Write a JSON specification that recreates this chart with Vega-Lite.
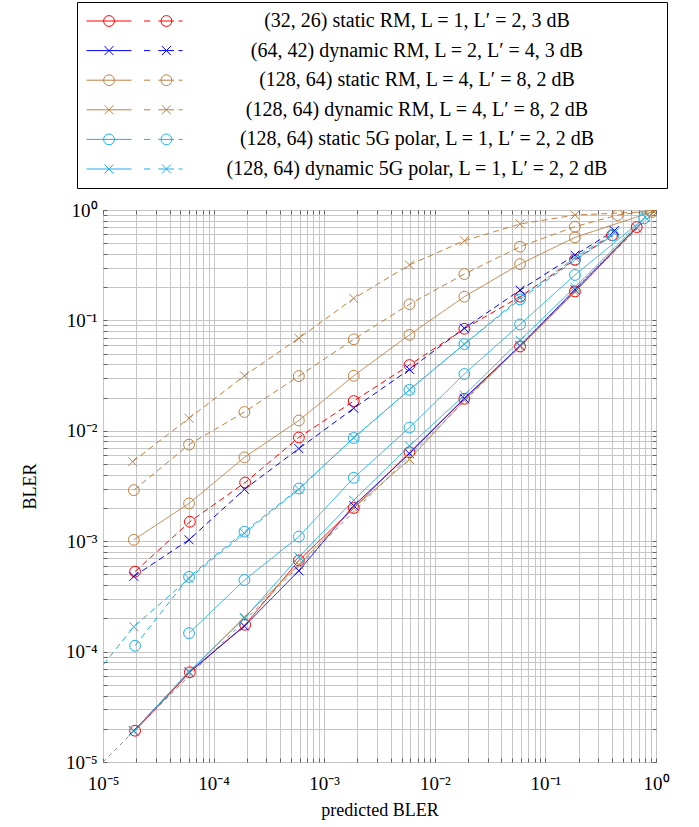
{
  "$schema": "https://vega.github.io/schema/vega-lite/v6.json",
  "width": 553,
  "height": 552,
  "autosize": {"type": "none"},
  "padding": {"left": 103, "top": 210, "right": 43, "bottom": 65},
  "background": "white",
  "config": {
    "view": {"stroke": "black", "strokeWidth": 1},
    "font": "Liberation Serif"
  },
  "data": {
    "values": [
      {"s": "(32, 26) static RM, L = 1, L′ = 2, 3 dB", "t": "L", "m": "o", "x": 0.0000195, "y": 0.0000192},
      {"s": "(32, 26) static RM, L = 1, L′ = 2, 3 dB", "t": "L", "m": "o", "x": 0.000061, "y": 0.000065},
      {"s": "(32, 26) static RM, L = 1, L′ = 2, 3 dB", "t": "L", "m": "o", "x": 0.000193, "y": 0.000175},
      {"s": "(32, 26) static RM, L = 1, L′ = 2, 3 dB", "t": "L", "m": "o", "x": 0.00059, "y": 0.00067},
      {"s": "(32, 26) static RM, L = 1, L′ = 2, 3 dB", "t": "L", "m": "o", "x": 0.00185, "y": 0.002},
      {"s": "(32, 26) static RM, L = 1, L′ = 2, 3 dB", "t": "L", "m": "o", "x": 0.0059, "y": 0.0064},
      {"s": "(32, 26) static RM, L = 1, L′ = 2, 3 dB", "t": "L", "m": "o", "x": 0.0185, "y": 0.0195},
      {"s": "(32, 26) static RM, L = 1, L′ = 2, 3 dB", "t": "L", "m": "o", "x": 0.059, "y": 0.058},
      {"s": "(32, 26) static RM, L = 1, L′ = 2, 3 dB", "t": "L", "m": "o", "x": 0.185, "y": 0.183},
      {"s": "(32, 26) static RM, L = 1, L′ = 2, 3 dB", "t": "L", "m": "o", "x": 0.67, "y": 0.7},
      {"s": "(32, 26) static RM, L = 1, L′ = 2, 3 dB", "t": "L′", "m": "o", "x": 0.0000195, "y": 0.00053},
      {"s": "(32, 26) static RM, L = 1, L′ = 2, 3 dB", "t": "L′", "m": "o", "x": 0.000061, "y": 0.0015},
      {"s": "(32, 26) static RM, L = 1, L′ = 2, 3 dB", "t": "L′", "m": "o", "x": 0.000193, "y": 0.0034},
      {"s": "(32, 26) static RM, L = 1, L′ = 2, 3 dB", "t": "L′", "m": "o", "x": 0.00059, "y": 0.0087},
      {"s": "(32, 26) static RM, L = 1, L′ = 2, 3 dB", "t": "L′", "m": "o", "x": 0.00185, "y": 0.0186},
      {"s": "(32, 26) static RM, L = 1, L′ = 2, 3 dB", "t": "L′", "m": "o", "x": 0.0059, "y": 0.0394},
      {"s": "(32, 26) static RM, L = 1, L′ = 2, 3 dB", "t": "L′", "m": "o", "x": 0.0185, "y": 0.084},
      {"s": "(32, 26) static RM, L = 1, L′ = 2, 3 dB", "t": "L′", "m": "o", "x": 0.059, "y": 0.164},
      {"s": "(32, 26) static RM, L = 1, L′ = 2, 3 dB", "t": "L′", "m": "o", "x": 0.185, "y": 0.355},
      {"s": "(32, 26) static RM, L = 1, L′ = 2, 3 dB", "t": "L′", "m": "o", "x": 0.4, "y": 0.59},

      {"s": "(64, 42) dynamic RM, L = 2, L′ = 4, 3 dB", "t": "L", "m": "x", "x": 0.000019, "y": 0.0000192},
      {"s": "(64, 42) dynamic RM, L = 2, L′ = 4, 3 dB", "t": "L", "m": "x", "x": 0.00006, "y": 0.000065},
      {"s": "(64, 42) dynamic RM, L = 2, L′ = 4, 3 dB", "t": "L", "m": "x", "x": 0.00019, "y": 0.00017},
      {"s": "(64, 42) dynamic RM, L = 2, L′ = 4, 3 dB", "t": "L", "m": "x", "x": 0.00059, "y": 0.00054},
      {"s": "(64, 42) dynamic RM, L = 2, L′ = 4, 3 dB", "t": "L", "m": "x", "x": 0.00185, "y": 0.0021},
      {"s": "(64, 42) dynamic RM, L = 2, L′ = 4, 3 dB", "t": "L", "m": "x", "x": 0.0059, "y": 0.0062},
      {"s": "(64, 42) dynamic RM, L = 2, L′ = 4, 3 dB", "t": "L", "m": "x", "x": 0.0185, "y": 0.0197},
      {"s": "(64, 42) dynamic RM, L = 2, L′ = 4, 3 dB", "t": "L", "m": "x", "x": 0.059, "y": 0.059},
      {"s": "(64, 42) dynamic RM, L = 2, L′ = 4, 3 dB", "t": "L", "m": "x", "x": 0.185, "y": 0.19},
      {"s": "(64, 42) dynamic RM, L = 2, L′ = 4, 3 dB", "t": "L", "m": "x", "x": 0.67, "y": 0.69},
      {"s": "(64, 42) dynamic RM, L = 2, L′ = 4, 3 dB", "t": "L′", "m": "x", "x": 0.000019, "y": 0.00048},
      {"s": "(64, 42) dynamic RM, L = 2, L′ = 4, 3 dB", "t": "L′", "m": "x", "x": 0.00006, "y": 0.00103},
      {"s": "(64, 42) dynamic RM, L = 2, L′ = 4, 3 dB", "t": "L′", "m": "x", "x": 0.00019, "y": 0.00295},
      {"s": "(64, 42) dynamic RM, L = 2, L′ = 4, 3 dB", "t": "L′", "m": "x", "x": 0.00059, "y": 0.0069},
      {"s": "(64, 42) dynamic RM, L = 2, L′ = 4, 3 dB", "t": "L′", "m": "x", "x": 0.00185, "y": 0.016},
      {"s": "(64, 42) dynamic RM, L = 2, L′ = 4, 3 dB", "t": "L′", "m": "x", "x": 0.0059, "y": 0.036},
      {"s": "(64, 42) dynamic RM, L = 2, L′ = 4, 3 dB", "t": "L′", "m": "x", "x": 0.0185, "y": 0.085},
      {"s": "(64, 42) dynamic RM, L = 2, L′ = 4, 3 dB", "t": "L′", "m": "x", "x": 0.059, "y": 0.188},
      {"s": "(64, 42) dynamic RM, L = 2, L′ = 4, 3 dB", "t": "L′", "m": "x", "x": 0.185, "y": 0.39},
      {"s": "(64, 42) dynamic RM, L = 2, L′ = 4, 3 dB", "t": "L′", "m": "x", "x": 0.42, "y": 0.65},

      {"s": "(128, 64) static RM, L = 4, L′ = 8, 2 dB", "t": "L", "m": "o", "x": 0.000019, "y": 0.00103},
      {"s": "(128, 64) static RM, L = 4, L′ = 8, 2 dB", "t": "L", "m": "o", "x": 0.00006, "y": 0.0022},
      {"s": "(128, 64) static RM, L = 4, L′ = 8, 2 dB", "t": "L", "m": "o", "x": 0.00019, "y": 0.00575},
      {"s": "(128, 64) static RM, L = 4, L′ = 8, 2 dB", "t": "L", "m": "o", "x": 0.00059, "y": 0.0124},
      {"s": "(128, 64) static RM, L = 4, L′ = 8, 2 dB", "t": "L", "m": "o", "x": 0.00185, "y": 0.0315},
      {"s": "(128, 64) static RM, L = 4, L′ = 8, 2 dB", "t": "L", "m": "o", "x": 0.0059, "y": 0.074},
      {"s": "(128, 64) static RM, L = 4, L′ = 8, 2 dB", "t": "L", "m": "o", "x": 0.0185, "y": 0.164},
      {"s": "(128, 64) static RM, L = 4, L′ = 8, 2 dB", "t": "L", "m": "o", "x": 0.059, "y": 0.324},
      {"s": "(128, 64) static RM, L = 4, L′ = 8, 2 dB", "t": "L", "m": "o", "x": 0.185, "y": 0.565},
      {"s": "(128, 64) static RM, L = 4, L′ = 8, 2 dB", "t": "L", "m": "o", "x": 0.92, "y": 0.96},
      {"s": "(128, 64) static RM, L = 4, L′ = 8, 2 dB", "t": "L′", "m": "o", "x": 0.000019, "y": 0.0029},
      {"s": "(128, 64) static RM, L = 4, L′ = 8, 2 dB", "t": "L′", "m": "o", "x": 0.00006, "y": 0.0075},
      {"s": "(128, 64) static RM, L = 4, L′ = 8, 2 dB", "t": "L′", "m": "o", "x": 0.00019, "y": 0.0148},
      {"s": "(128, 64) static RM, L = 4, L′ = 8, 2 dB", "t": "L′", "m": "o", "x": 0.00059, "y": 0.0313},
      {"s": "(128, 64) static RM, L = 4, L′ = 8, 2 dB", "t": "L′", "m": "o", "x": 0.00185, "y": 0.0674},
      {"s": "(128, 64) static RM, L = 4, L′ = 8, 2 dB", "t": "L′", "m": "o", "x": 0.0059, "y": 0.14},
      {"s": "(128, 64) static RM, L = 4, L′ = 8, 2 dB", "t": "L′", "m": "o", "x": 0.0185, "y": 0.263},
      {"s": "(128, 64) static RM, L = 4, L′ = 8, 2 dB", "t": "L′", "m": "o", "x": 0.059, "y": 0.465},
      {"s": "(128, 64) static RM, L = 4, L′ = 8, 2 dB", "t": "L′", "m": "o", "x": 0.185, "y": 0.706},
      {"s": "(128, 64) static RM, L = 4, L′ = 8, 2 dB", "t": "L′", "m": "o", "x": 0.45, "y": 0.9},
      {"s": "(128, 64) static RM, L = 4, L′ = 8, 2 dB", "t": "L′", "m": "o", "x": 0.9, "y": 0.99},

      {"s": "(128, 64) dynamic RM, L = 4, L′ = 8, 2 dB", "t": "L", "m": "x", "x": 0.000019, "y": 0.000019},
      {"s": "(128, 64) dynamic RM, L = 4, L′ = 8, 2 dB", "t": "L", "m": "x", "x": 0.00006, "y": 0.000065},
      {"s": "(128, 64) dynamic RM, L = 4, L′ = 8, 2 dB", "t": "L", "m": "x", "x": 0.00019, "y": 0.000205},
      {"s": "(128, 64) dynamic RM, L = 4, L′ = 8, 2 dB", "t": "L", "m": "x", "x": 0.00059, "y": 0.00061},
      {"s": "(128, 64) dynamic RM, L = 4, L′ = 8, 2 dB", "t": "L", "m": "x", "x": 0.00185, "y": 0.002},
      {"s": "(128, 64) dynamic RM, L = 4, L′ = 8, 2 dB", "t": "L", "m": "x", "x": 0.0059, "y": 0.0055},
      {"s": "(128, 64) dynamic RM, L = 4, L′ = 8, 2 dB", "t": "L", "m": "x", "x": 0.0185, "y": 0.019},
      {"s": "(128, 64) dynamic RM, L = 4, L′ = 8, 2 dB", "t": "L", "m": "x", "x": 0.059, "y": 0.058},
      {"s": "(128, 64) dynamic RM, L = 4, L′ = 8, 2 dB", "t": "L", "m": "x", "x": 0.185, "y": 0.18},
      {"s": "(128, 64) dynamic RM, L = 4, L′ = 8, 2 dB", "t": "L", "m": "x", "x": 0.67, "y": 0.69},
      {"s": "(128, 64) dynamic RM, L = 4, L′ = 8, 2 dB", "t": "L′", "m": "x", "x": 0.0000185, "y": 0.00525},
      {"s": "(128, 64) dynamic RM, L = 4, L′ = 8, 2 dB", "t": "L′", "m": "x", "x": 0.00006, "y": 0.013},
      {"s": "(128, 64) dynamic RM, L = 4, L′ = 8, 2 dB", "t": "L′", "m": "x", "x": 0.00019, "y": 0.0315},
      {"s": "(128, 64) dynamic RM, L = 4, L′ = 8, 2 dB", "t": "L′", "m": "x", "x": 0.00059, "y": 0.069},
      {"s": "(128, 64) dynamic RM, L = 4, L′ = 8, 2 dB", "t": "L′", "m": "x", "x": 0.00185, "y": 0.158},
      {"s": "(128, 64) dynamic RM, L = 4, L′ = 8, 2 dB", "t": "L′", "m": "x", "x": 0.0059, "y": 0.318},
      {"s": "(128, 64) dynamic RM, L = 4, L′ = 8, 2 dB", "t": "L′", "m": "x", "x": 0.0185, "y": 0.527},
      {"s": "(128, 64) dynamic RM, L = 4, L′ = 8, 2 dB", "t": "L′", "m": "x", "x": 0.059, "y": 0.747},
      {"s": "(128, 64) dynamic RM, L = 4, L′ = 8, 2 dB", "t": "L′", "m": "x", "x": 0.185, "y": 0.9},
      {"s": "(128, 64) dynamic RM, L = 4, L′ = 8, 2 dB", "t": "L′", "m": "x", "x": 0.95, "y": 0.97},

      {"s": "(128, 64) static 5G polar, L = 1, L′ = 2, 2 dB", "t": "L", "m": "o", "x": 0.00006, "y": 0.000147},
      {"s": "(128, 64) static 5G polar, L = 1, L′ = 2, 2 dB", "t": "L", "m": "o", "x": 0.00019, "y": 0.000445},
      {"s": "(128, 64) static 5G polar, L = 1, L′ = 2, 2 dB", "t": "L", "m": "o", "x": 0.00059, "y": 0.0011},
      {"s": "(128, 64) static 5G polar, L = 1, L′ = 2, 2 dB", "t": "L", "m": "o", "x": 0.00185, "y": 0.00375},
      {"s": "(128, 64) static 5G polar, L = 1, L′ = 2, 2 dB", "t": "L", "m": "o", "x": 0.0059, "y": 0.0107},
      {"s": "(128, 64) static 5G polar, L = 1, L′ = 2, 2 dB", "t": "L", "m": "o", "x": 0.0185, "y": 0.0327},
      {"s": "(128, 64) static 5G polar, L = 1, L′ = 2, 2 dB", "t": "L", "m": "o", "x": 0.059, "y": 0.092},
      {"s": "(128, 64) static 5G polar, L = 1, L′ = 2, 2 dB", "t": "L", "m": "o", "x": 0.185, "y": 0.258},
      {"s": "(128, 64) static 5G polar, L = 1, L′ = 2, 2 dB", "t": "L", "m": "o", "x": 0.78, "y": 0.84},
      {"s": "(128, 64) static 5G polar, L = 1, L′ = 2, 2 dB", "t": "L′", "m": "o", "x": 0.0000195, "y": 0.000113},
      {"s": "(128, 64) static 5G polar, L = 1, L′ = 2, 2 dB", "t": "L′", "m": "o", "x": 0.00006, "y": 0.000475},
      {"s": "(128, 64) static 5G polar, L = 1, L′ = 2, 2 dB", "t": "L′", "m": "o", "x": 0.00019, "y": 0.00122},
      {"s": "(128, 64) static 5G polar, L = 1, L′ = 2, 2 dB", "t": "L′", "m": "o", "x": 0.00059, "y": 0.003},
      {"s": "(128, 64) static 5G polar, L = 1, L′ = 2, 2 dB", "t": "L′", "m": "o", "x": 0.00185, "y": 0.0086},
      {"s": "(128, 64) static 5G polar, L = 1, L′ = 2, 2 dB", "t": "L′", "m": "o", "x": 0.0059, "y": 0.0235},
      {"s": "(128, 64) static 5G polar, L = 1, L′ = 2, 2 dB", "t": "L′", "m": "o", "x": 0.0185, "y": 0.061},
      {"s": "(128, 64) static 5G polar, L = 1, L′ = 2, 2 dB", "t": "L′", "m": "o", "x": 0.059, "y": 0.155},
      {"s": "(128, 64) static 5G polar, L = 1, L′ = 2, 2 dB", "t": "L′", "m": "o", "x": 0.185, "y": 0.35},
      {"s": "(128, 64) static 5G polar, L = 1, L′ = 2, 2 dB", "t": "L′", "m": "o", "x": 0.41, "y": 0.59},

      {"s": "(128, 64) dynamic 5G polar, L = 1, L′ = 2, 2 dB", "t": "L", "m": "x", "x": 0.000019, "y": 0.000019},
      {"s": "(128, 64) dynamic 5G polar, L = 1, L′ = 2, 2 dB", "t": "L", "m": "x", "x": 0.00006, "y": 0.000066},
      {"s": "(128, 64) dynamic 5G polar, L = 1, L′ = 2, 2 dB", "t": "L", "m": "x", "x": 0.00019, "y": 0.0002},
      {"s": "(128, 64) dynamic 5G polar, L = 1, L′ = 2, 2 dB", "t": "L", "m": "x", "x": 0.00059, "y": 0.00072},
      {"s": "(128, 64) dynamic 5G polar, L = 1, L′ = 2, 2 dB", "t": "L", "m": "x", "x": 0.00185, "y": 0.00235},
      {"s": "(128, 64) dynamic 5G polar, L = 1, L′ = 2, 2 dB", "t": "L", "m": "x", "x": 0.0059, "y": 0.0073},
      {"s": "(128, 64) dynamic 5G polar, L = 1, L′ = 2, 2 dB", "t": "L", "m": "x", "x": 0.0185, "y": 0.021},
      {"s": "(128, 64) dynamic 5G polar, L = 1, L′ = 2, 2 dB", "t": "L", "m": "x", "x": 0.059, "y": 0.066},
      {"s": "(128, 64) dynamic 5G polar, L = 1, L′ = 2, 2 dB", "t": "L", "m": "x", "x": 0.185, "y": 0.2},
      {"s": "(128, 64) dynamic 5G polar, L = 1, L′ = 2, 2 dB", "t": "L", "m": "x", "x": 0.8, "y": 0.86},
      {"s": "(128, 64) dynamic 5G polar, L = 1, L′ = 2, 2 dB", "t": "L′", "m": "x", "x": 0.000006, "y": 0.00004},
      {"s": "(128, 64) dynamic 5G polar, L = 1, L′ = 2, 2 dB", "t": "L′", "m": "x", "x": 0.000019, "y": 0.000168},
      {"s": "(128, 64) dynamic 5G polar, L = 1, L′ = 2, 2 dB", "t": "L′", "m": "x", "x": 0.00006, "y": 0.00046},
      {"s": "(128, 64) dynamic 5G polar, L = 1, L′ = 2, 2 dB", "t": "L′", "m": "x", "x": 0.00019, "y": 0.00118},
      {"s": "(128, 64) dynamic 5G polar, L = 1, L′ = 2, 2 dB", "t": "L′", "m": "x", "x": 0.00059, "y": 0.00295},
      {"s": "(128, 64) dynamic 5G polar, L = 1, L′ = 2, 2 dB", "t": "L′", "m": "x", "x": 0.00185, "y": 0.0087},
      {"s": "(128, 64) dynamic 5G polar, L = 1, L′ = 2, 2 dB", "t": "L′", "m": "x", "x": 0.0059, "y": 0.0235},
      {"s": "(128, 64) dynamic 5G polar, L = 1, L′ = 2, 2 dB", "t": "L′", "m": "x", "x": 0.0185, "y": 0.061},
      {"s": "(128, 64) dynamic 5G polar, L = 1, L′ = 2, 2 dB", "t": "L′", "m": "x", "x": 0.059, "y": 0.16},
      {"s": "(128, 64) dynamic 5G polar, L = 1, L′ = 2, 2 dB", "t": "L′", "m": "x", "x": 0.185, "y": 0.37},
      {"s": "(128, 64) dynamic 5G polar, L = 1, L′ = 2, 2 dB", "t": "L′", "m": "x", "x": 0.42, "y": 0.62}
    ]
  },
  "resolve": {"axis": {"x": "independent", "y": "independent"}},
  "layer": [
    {
      "data": {"values": [{"x": 0.00001, "y": 0.00001}, {"x": 1, "y": 1}]},
      "mark": {"type": "line", "color": "#8a8a8a", "strokeWidth": 1, "strokeDash": [4, 4], "clip": true},
      "encoding": {
        "x": {"field": "x", "type": "quantitative", "scale": {"type": "log", "domain": [0.00001, 1], "nice": false},
          "axis": {"orient": "top", "labels": false, "grid": false, "domain": false, "title": null, "tickSize": -4, "tickColor": "#606060",
            "values": [0.00001,0.00002,0.00003,0.00004,0.00005,0.00006,0.00007,0.00008,0.00009,0.0001,0.0002,0.0003,0.0004,0.0005,0.0006,0.0007,0.0008,0.0009,0.001,0.002,0.003,0.004,0.005,0.006,0.007,0.008,0.009,0.01,0.02,0.03,0.04,0.05,0.06,0.07,0.08,0.09,0.1,0.2,0.3,0.4,0.5,0.6,0.7,0.8,0.9,1]}},
        "y": {"field": "y", "type": "quantitative", "scale": {"type": "log", "domain": [0.00001, 1], "nice": false},
          "axis": {"orient": "right", "labels": false, "grid": false, "domain": false, "title": null, "tickSize": -4, "tickColor": "#606060",
            "values": [0.00001,0.00002,0.00003,0.00004,0.00005,0.00006,0.00007,0.00008,0.00009,0.0001,0.0002,0.0003,0.0004,0.0005,0.0006,0.0007,0.0008,0.0009,0.001,0.002,0.003,0.004,0.005,0.006,0.007,0.008,0.009,0.01,0.02,0.03,0.04,0.05,0.06,0.07,0.08,0.09,0.1,0.2,0.3,0.4,0.5,0.6,0.7,0.8,0.9,1]}}
      }
    },
    {
      "mark": {"type": "line", "strokeWidth": 1, "clip": true},
      "encoding": {
        "x": {"field": "x", "type": "quantitative", "scale": {"type": "log", "domain": [0.00001, 1], "nice": false},
          "axis": {"orient": "bottom", "title": "predicted BLER", "titleFont": "Liberation Serif", "titleFontSize": 18, "titleFontWeight": "normal", "titleColor": "black", "titlePadding": 8,
            "labelFont": "Liberation Serif", "labelFontSize": 19, "labelColor": "black", "labelPadding": 16, "labelFlush": false, "labelOverlap": false, "labelBound": false,
            "labelExpr": "abs(log(datum.value)/LN10 - round(log(datum.value)/LN10)) < 0.001 ? ['10⁰','10⁻¹','10⁻²','10⁻³','10⁻⁴','10⁻⁵'][-round(log(datum.value)/LN10)] : ''",
            "grid": true, "gridColor": "#c6c6c6", "gridWidth": 1, "gridOpacity": 1, "domain": false, "tickSize": -4, "tickColor": "#606060",
            "values": [0.00001,0.00002,0.00003,0.00004,0.00005,0.00006,0.00007,0.00008,0.00009,0.0001,0.0002,0.0003,0.0004,0.0005,0.0006,0.0007,0.0008,0.0009,0.001,0.002,0.003,0.004,0.005,0.006,0.007,0.008,0.009,0.01,0.02,0.03,0.04,0.05,0.06,0.07,0.08,0.09,0.1,0.2,0.3,0.4,0.5,0.6,0.7,0.8,0.9,1]}},
        "y": {"field": "y", "type": "quantitative", "scale": {"type": "log", "domain": [0.00001, 1], "nice": false},
          "axis": {"orient": "left", "title": "BLER", "titleFont": "Liberation Serif", "titleFontSize": 18, "titleFontWeight": "normal", "titleColor": "black", "titlePadding": 26,
            "labelFont": "Liberation Serif", "labelFontSize": 19, "labelColor": "black", "labelPadding": 10, "labelFlush": false, "labelOverlap": false, "labelBound": false,
            "labelExpr": "abs(log(datum.value)/LN10 - round(log(datum.value)/LN10)) < 0.001 ? ['10⁰','10⁻¹','10⁻²','10⁻³','10⁻⁴','10⁻⁵'][-round(log(datum.value)/LN10)] : ''",
            "grid": true, "gridColor": "#c6c6c6", "gridWidth": 1, "gridOpacity": 1, "domain": false, "tickSize": -4, "tickColor": "#606060",
            "values": [0.00001,0.00002,0.00003,0.00004,0.00005,0.00006,0.00007,0.00008,0.00009,0.0001,0.0002,0.0003,0.0004,0.0005,0.0006,0.0007,0.0008,0.0009,0.001,0.002,0.003,0.004,0.005,0.006,0.007,0.008,0.009,0.01,0.02,0.03,0.04,0.05,0.06,0.07,0.08,0.09,0.1,0.2,0.3,0.4,0.5,0.6,0.7,0.8,0.9,1]}},
        "color": {"field": "s", "type": "nominal", "legend": null,
          "scale": {"domain": ["(128, 64) dynamic 5G polar, L = 1, L′ = 2, 2 dB", "(128, 64) static 5G polar, L = 1, L′ = 2, 2 dB", "(128, 64) dynamic RM, L = 4, L′ = 8, 2 dB", "(128, 64) static RM, L = 4, L′ = 8, 2 dB", "(64, 42) dynamic RM, L = 2, L′ = 4, 3 dB", "(32, 26) static RM, L = 1, L′ = 2, 3 dB"],
            "range": ["#1eafe6", "#1eafe6", "#bf8040", "#bf8040", "#0000ff", "#ff0000"]}},
        "strokeDash": {"field": "t", "type": "nominal", "legend": null, "scale": {"domain": ["L", "L′"], "range": [[1, 0], [6, 4]]}}
      }
    },
    {
      "transform": [{"filter": "datum.m == 'o'"}],
      "mark": {"type": "point", "shape": "circle", "filled": false, "size": 117, "strokeWidth": 1, "opacity": 1, "clip": true},
      "encoding": {
        "x": {"field": "x", "type": "quantitative", "scale": {"type": "log", "domain": [0.00001, 1], "nice": false}, "axis": null},
        "y": {"field": "y", "type": "quantitative", "scale": {"type": "log", "domain": [0.00001, 1], "nice": false}, "axis": null},
        "color": {"field": "s", "type": "nominal", "legend": null,
          "scale": {"domain": ["(128, 64) dynamic 5G polar, L = 1, L′ = 2, 2 dB", "(128, 64) static 5G polar, L = 1, L′ = 2, 2 dB", "(128, 64) dynamic RM, L = 4, L′ = 8, 2 dB", "(128, 64) static RM, L = 4, L′ = 8, 2 dB", "(64, 42) dynamic RM, L = 2, L′ = 4, 3 dB", "(32, 26) static RM, L = 1, L′ = 2, 3 dB"],
            "range": ["#1eafe6", "#1eafe6", "#bf8040", "#bf8040", "#0000ff", "#ff0000"]}}
      }
    },
    {
      "transform": [{"filter": "datum.m == 'x'"}],
      "mark": {"type": "point", "shape": "M-1,-1L1,1M-1,1L1,-1", "filled": false, "size": 81, "strokeWidth": 1, "opacity": 1, "clip": true},
      "encoding": {
        "x": {"field": "x", "type": "quantitative", "scale": {"type": "log", "domain": [0.00001, 1], "nice": false}, "axis": null},
        "y": {"field": "y", "type": "quantitative", "scale": {"type": "log", "domain": [0.00001, 1], "nice": false}, "axis": null},
        "color": {"field": "s", "type": "nominal", "legend": null,
          "scale": {"domain": ["(128, 64) dynamic 5G polar, L = 1, L′ = 2, 2 dB", "(128, 64) static 5G polar, L = 1, L′ = 2, 2 dB", "(128, 64) dynamic RM, L = 4, L′ = 8, 2 dB", "(128, 64) static RM, L = 4, L′ = 8, 2 dB", "(64, 42) dynamic RM, L = 2, L′ = 4, 3 dB", "(32, 26) static RM, L = 1, L′ = 2, 3 dB"],
            "range": ["#1eafe6", "#1eafe6", "#bf8040", "#bf8040", "#0000ff", "#ff0000"]}}
      }
    },
    {
      "mark": {"type": "point", "filled": false, "size": 1, "strokeWidth": 1, "opacity": 0},
      "encoding": {
        "x": {"field": "x", "type": "quantitative", "scale": {"type": "log", "domain": [0.00001, 1], "nice": false}, "axis": null},
        "y": {"field": "y", "type": "quantitative", "scale": {"type": "log", "domain": [0.00001, 1], "nice": false}, "axis": null},
        "stroke": {"field": "s", "type": "nominal",
          "scale": {"domain": ["(32, 26) static RM, L = 1, L′ = 2, 3 dB", "(64, 42) dynamic RM, L = 2, L′ = 4, 3 dB", "(128, 64) static RM, L = 4, L′ = 8, 2 dB", "(128, 64) dynamic RM, L = 4, L′ = 8, 2 dB", "(128, 64) static 5G polar, L = 1, L′ = 2, 2 dB", "(128, 64) dynamic 5G polar, L = 1, L′ = 2, 2 dB"],
            "range": ["#ff0000", "#0000ff", "#bf8040", "#bf8040", "#1eafe6", "#1eafe6"]},
          "legend": {"orient": "none", "legendX": -26, "legendY": -208, "direction": "vertical", "title": " ", "titleOrient": "right", "titleFontSize": 1, "titleColor": "transparent", "titlePadding": 50,
            "padding": 9, "strokeColor": "black", "fillColor": "white", "cornerRadius": 0,
            "labelFont": "Liberation Serif", "labelFontSize": 20, "labelColor": "black", "labelAlign": "center", "labelBaseline": "middle", "labelOffset": 234, "labelLimit": 800,
            "symbolSize": 9216, "symbolStrokeWidth": 1, "symbolOpacity": 1, "symbolOffset": 0, "symbolFillColor": "transparent", "clipHeight": 20, "rowPadding": 9.6}},
        "shape": {"field": "s", "type": "nominal",
          "scale": {"domain": ["(32, 26) static RM, L = 1, L′ = 2, 3 dB", "(64, 42) dynamic RM, L = 2, L′ = 4, 3 dB", "(128, 64) static RM, L = 4, L′ = 8, 2 dB", "(128, 64) dynamic RM, L = 4, L′ = 8, 2 dB", "(128, 64) static 5G polar, L = 1, L′ = 2, 2 dB", "(128, 64) dynamic 5G polar, L = 1, L′ = 2, 2 dB"],
            "range": [
              "M-1,0H-0.0625M-0.4185,0A0.1125,0.1125,0,1,1,-0.6435,0A0.1125,0.1125,0,1,1,-0.4185,0M0.198,0H0.327M0.496,0H0.823M0.7775,0A0.1125,0.1125,0,1,1,0.5525,0A0.1125,0.1125,0,1,1,0.7775,0M0.917,0H1",
              "M-1,0H-0.0625M-0.625,-0.094L-0.437,0.094M-0.625,0.094L-0.437,-0.094M0.198,0H0.327M0.496,0H0.823M0.571,-0.094L0.759,0.094M0.571,0.094L0.759,-0.094M0.917,0H1",
              "M-1,0H-0.0625M-0.4185,0A0.1125,0.1125,0,1,1,-0.6435,0A0.1125,0.1125,0,1,1,-0.4185,0M0.198,0H0.327M0.496,0H0.823M0.7775,0A0.1125,0.1125,0,1,1,0.5525,0A0.1125,0.1125,0,1,1,0.7775,0M0.917,0H1",
              "M-1,0H-0.0625M-0.625,-0.094L-0.437,0.094M-0.625,0.094L-0.437,-0.094M0.198,0H0.327M0.496,0H0.823M0.571,-0.094L0.759,0.094M0.571,0.094L0.759,-0.094M0.917,0H1",
              "M-1,0H-0.0625M-0.4185,0A0.1125,0.1125,0,1,1,-0.6435,0A0.1125,0.1125,0,1,1,-0.4185,0M0.198,0H0.327M0.496,0H0.823M0.7775,0A0.1125,0.1125,0,1,1,0.5525,0A0.1125,0.1125,0,1,1,0.7775,0M0.917,0H1",
              "M-1,0H-0.0625M-0.625,-0.094L-0.437,0.094M-0.625,0.094L-0.437,-0.094M0.198,0H0.327M0.496,0H0.823M0.571,-0.094L0.759,0.094M0.571,0.094L0.759,-0.094M0.917,0H1"
            ]},
          "legend": {"orient": "none", "legendX": -26, "legendY": -208, "direction": "vertical", "title": " ", "titleOrient": "right", "titleFontSize": 1, "titleColor": "transparent", "titlePadding": 50,
            "padding": 9, "strokeColor": "black", "fillColor": "white", "cornerRadius": 0,
            "labelFont": "Liberation Serif", "labelFontSize": 20, "labelColor": "black", "labelAlign": "center", "labelBaseline": "middle", "labelOffset": 234, "labelLimit": 800,
            "symbolSize": 9216, "symbolStrokeWidth": 1, "symbolOpacity": 1, "symbolOffset": 0, "symbolFillColor": "transparent", "clipHeight": 20, "rowPadding": 9.6}}
      }
    }
  ]
}
